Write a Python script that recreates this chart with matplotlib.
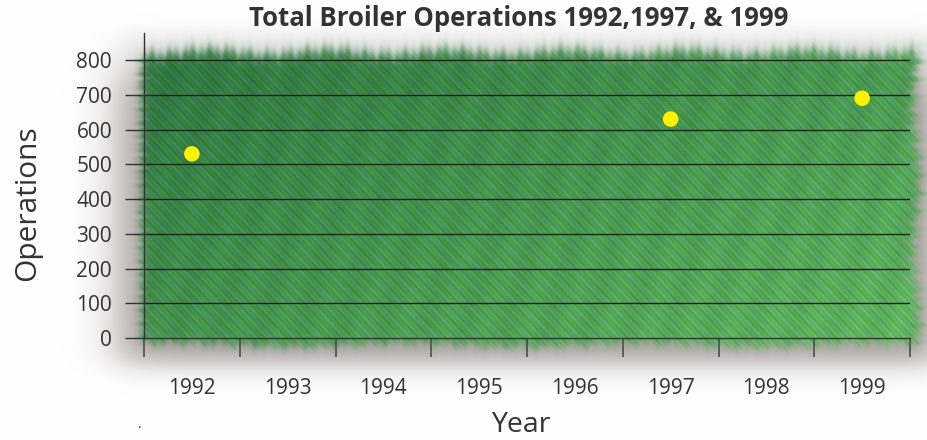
import numpy as np
import matplotlib
matplotlib.use("Agg")
import matplotlib.pyplot as plt

# data
years = ["1992", "1993", "1994", "1995", "1996", "1997", "1998", "1999"]
point_years = ["1992", "1997", "1999"]
operations = [530, 630, 690]
yticks = [0, 100, 200, 300, 400, 500, 600, 700, 800]

W, H = 927, 440
TXT = "#333333"
plt.rcParams['font.family'] = ['Open Sans', 'DejaVu Sans']


def sig(v):
    return 1 / (1 + np.exp(-v))


def make_background():
    """painted green panel with a soft grey shadow, built in pixel coords"""
    yy, xx = np.mgrid[0:H, 0:W].astype(float)
    img = np.ones((H, W, 3))

    # grey shadow, mostly bottom and left, fading out
    sh = sig((xx - 118) / 13) * sig((935 - xx) / 8) * sig((yy - 70) / 12) * sig((362 - yy) / 8)
    shadow_col = np.array([0.58, 0.53, 0.53])
    img = img * (1 - sh[..., None] * 0.8) + shadow_col * sh[..., None] * 0.8
    # faint haze just above the panel
    hz = sig((yy - 32) / 5) * sig((70 - yy) / 5) * sig((xx - 120) / 10) * 0.06
    img = img - hz[..., None]

    # ragged edges (deterministic wiggle)
    top = 52 + 2.0 * np.sin(xx / 3.1) + 1.5 * np.sin(xx / 1.3 + 1) + 2.5 * np.sin(xx / 19.0)
    bot = 344 + 1.5 * np.sin(xx / 4.0) + 1.0 * np.sin(xx / 1.6) + 2 * np.sin(xx / 37.0)
    lft = 141 + 1.2 * np.sin(yy / 2.0) + 1.0 * np.sin(yy / 1.1)
    rgt = 916 + 2.0 * np.sin(yy / 3.0) + 1.5 * np.sin(yy / 1.4 + 2) + 3 * np.sin(yy / 23.0)
    m = sig((yy - top) / 3.5) * sig((bot - yy) / 2.5) * sig((xx - lft) / 2.5) * sig((rgt - xx) / 3)

    # green gradient dark top-left -> light bottom-right
    t = np.clip(0.55 * (xx - 140) / 775 + 0.45 * (yy - 50) / 295, 0, 1)
    c0 = np.array([0.18, 0.46, 0.25])
    c1 = np.array([0.38, 0.71, 0.38])
    green = c0 + (c1 - c0) * t[..., None]
    # diagonal brush strokes
    st = (0.05 * np.sin(2 * np.pi * (xx - 0.9 * yy) / 5.5)
          + 0.04 * np.sin(2 * np.pi * (xx - 1.1 * yy) / 13.0 + 0.7)
          + 0.03 * np.sin(2 * np.pi * (xx + 0.3 * yy) / 41.0))
    green = green * (1 + st[..., None])
    green[..., 2] += 0.03 * np.sin(2 * np.pi * (xx - yy) / 23.0)
    green = np.clip(green, 0, 1)

    img = img * (1 - m[..., None]) + green * m[..., None]
    return np.clip(img, 0, 1)


fig = plt.figure(figsize=(W / 100, H / 100), dpi=100)
bg = fig.add_axes([0, 0, 1, 1])
bg.imshow(make_background(), extent=(0, W, H, 0), aspect='auto', interpolation='bilinear')
bg.set_xlim(0, W)
bg.set_ylim(H, 0)
bg.axis('off')

ax = fig.add_axes([144 / W, 102 / H, 766 / W, 305 / H])
ax.set_facecolor('none')
ax.set_xlim(-0.5, len(years) - 0.5)
ax.set_ylim(0, 877.7)

for v in yticks[1:]:
    ax.axhline(v, color="#222222", lw=1.0, zorder=1)

x = [years.index(y) for y in point_years]
ax.scatter(x, operations, s=125, color="#fff200", edgecolors='none', zorder=3)

for s in ['top', 'right']:
    ax.spines[s].set_visible(False)
ax.spines['left'].set_color("#333333")
ax.spines['left'].set_linewidth(1.0)
ax.spines['bottom'].set_color("#333333")
ax.spines['bottom'].set_linewidth(1.0)

ax.set_yticks(yticks)
ax.set_yticklabels([str(v) for v in yticks])
ax.tick_params(axis='y', length=14, width=1.0, color="#333333", pad=9,
               labelsize=15, labelcolor=TXT)

ax.set_xticks(np.arange(-0.5, len(years), 1.0))
ax.set_xticklabels([])
ax.set_xticks(np.arange(len(years)), minor=True)
ax.set_xticklabels(years, minor=True)
ax.tick_params(axis='x', which='major', length=14, width=1.1, color="#444444")
ax.tick_params(axis='x', which='minor', length=0, pad=29, labelsize=15, labelcolor=TXT)

fig.text(519 / W, 1 - 18 / H, "Total Broiler Operations 1992,1997, & 1999", ha='center',
         va='center', fontsize=18.5, fontweight='bold', color=TXT)
fig.text(28 / W, 1 - 203 / H, "Operations", rotation=90, ha='center', va='center',
         fontsize=21.5, color=TXT)
fig.text(521 / W, 1 - 425 / H, "Year", ha='center', va='center', fontsize=20.5, color=TXT)
fig.text(140 / W, 1 - 424 / H, ".", ha='center', va='center', fontsize=10, color=TXT)

fig.savefig("out.png", dpi=100)
